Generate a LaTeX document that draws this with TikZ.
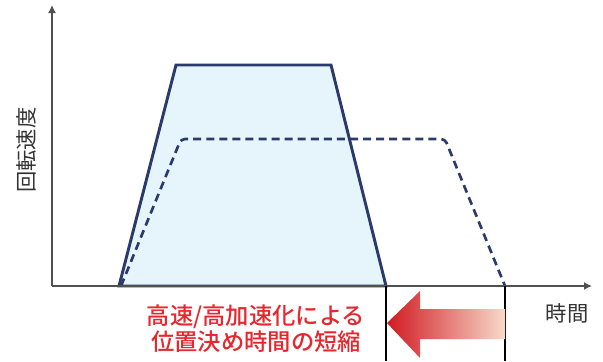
\documentclass[tikz,border=0pt]{standalone}
\usepackage{fontspec}
\setmainfont{Noto Sans CJK JP}
\newfontfamily\gainfont{Noto Sans CJK JP Medium}
\usepackage{tikz}
\usepackage{xcolor}
\usetikzlibrary{arrows.meta}
\definecolor{curve-navy}{HTML}{2B3A6C}
\definecolor{fill-blue}{HTML}{E6F5FB}
\definecolor{axis-gray}{HTML}{505050}
\definecolor{label-gray}{HTML}{333333}
\definecolor{gain-red}{HTML}{E8262D}
\definecolor{arrow-red}{HTML}{D01B22}
\definecolor{arrow-pale}{HTML}{F8D9CA}
\tikzset{
    axis-line/.style = {draw=axis-gray, line width=1.1pt, -{Latex[length=6pt,width=6pt]}},
    fast-curve/.style = {draw=curve-navy, fill=fill-blue, line width=2.2pt},
    slow-curve/.style = {draw=curve-navy, line width=2pt, dash pattern=on 6pt off 3.8pt, rounded corners=3pt},
    time-mark/.style = {draw=black, line width=0.8pt},
    axis-label/.style = {text=label-gray, font=\fontsize{16}{18}\selectfont, inner sep=0pt},
    gain-label/.style = {text=gain-red, font=\gainfont\fontsize{17.5}{19.5}\selectfont, align=center, inner sep=0pt},
    gain-arrow/.style = {left color=arrow-red, right color=arrow-pale, draw=none},
}

\begin{document}
\begin{tikzpicture}[x=0.75pt, y=-0.75pt]
\useasboundingbox (0,0) rectangle (603,361);
\coordinate (origin) at (52,286);
\coordinate (speed-end) at (52,5);
\coordinate (time-end) at (592,286);
\coordinate (fast-stop) at (386,286);
\coordinate (slow-stop) at (505,286);
\coordinate (fast-mark) at (386,361);
\coordinate (slow-mark) at (505,361);

\filldraw[fast-curve] (119,286) -- (176,65) -- (331,65) -- (fast-stop) -- cycle;
\draw[slow-curve] (121,286) -- (181,139) -- (445,139) -- (slow-stop);
\draw[axis-line] (origin) -- (speed-end);
\draw[axis-line] (origin) -- (time-end);
\draw[time-mark] (fast-stop) -- (fast-mark);
\draw[time-mark] (slow-stop) -- (slow-mark);

\shade[gain-arrow] (387,323) -- (420,291) -- (420,309) -- (505,309) -- (505,339) -- (420,339) -- (420,358) -- cycle;

\node[axis-label, rotate=90] (speed) at (26,150) {回転速度};
\node[axis-label] (time) at (567,313) {時間};
\node[gain-label] (gain) at (256,329) {高速/高加速化による\\位置決め時間の短縮};
\end{tikzpicture}
\end{document}
